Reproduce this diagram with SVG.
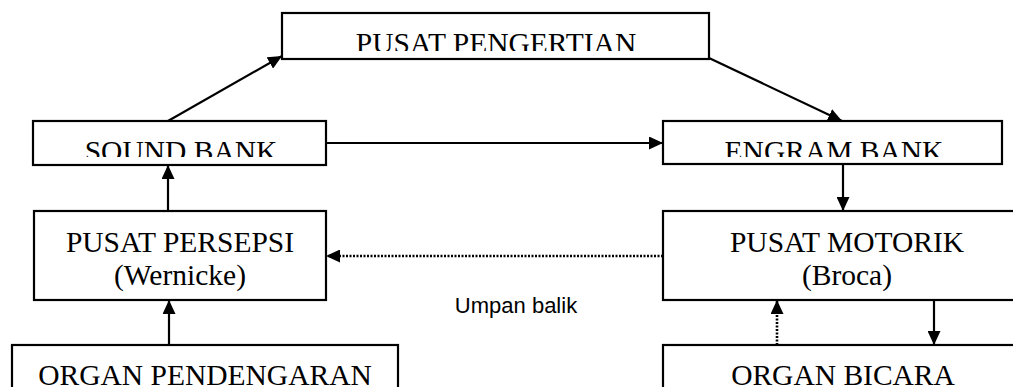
<svg xmlns="http://www.w3.org/2000/svg" width="1013" height="387" viewBox="0 0 1013 387">
  <style>
    .box { fill: #ffffff; stroke: #000000; stroke-width: 2.2; }
    .lbl { font-family: "Liberation Serif", "Times New Roman", serif; font-size: 29.5px; fill: #000000; text-anchor: middle; }
    .note { font-family: "Liberation Sans", Arial, sans-serif; font-size: 22px; fill: #000000; text-anchor: middle; }
    .edge { fill: none; stroke: #000000; stroke-width: 2.2; marker-end: url(#arrow); }
    .dot { stroke-width: 2.6; stroke-dasharray: 2 1.5; }
  </style>
  <defs>
    <marker id="arrow" markerUnits="userSpaceOnUse" markerWidth="14" markerHeight="13" refX="14" refY="6.5" orient="auto">
      <path d="M0,0 L14,6.5 L0,13 z" fill="#000000"/>
    </marker>
    <!-- text areas stop short of the box bottom, as in a text frame with inner margins -->
    <clipPath id="clip-pengertian"><rect x="282" y="13" width="427" height="38"/></clipPath>
    <clipPath id="clip-sound"><rect x="33" y="121" width="293" height="36"/></clipPath>
    <clipPath id="clip-engram"><rect x="663" y="121" width="339" height="36"/></clipPath>
  </defs>

  <rect width="1013" height="387" fill="#ffffff"/>

  <g id="connectors">
    <path class="edge" d="M168,121 L282,56"/>
    <path class="edge" d="M709,58 L842,121"/>
    <path class="edge" d="M326,143 L663,143"/>
    <path class="edge" d="M843,164 L843,211"/>
    <path class="edge" d="M168,211 L168,165"/>
    <path class="edge" d="M169,345 L169,300"/>
    <path class="edge dot" d="M663,256 L326,256"/>
    <path class="edge dot" d="M777,345 L777,300"/>
    <path class="edge" d="M934,300 L934,345"/>
    <text class="note" x="516" y="313">Umpan balik</text>
  </g>

  <g id="n-pengertian">
    <rect class="box" x="282" y="13" width="427" height="46"/>
    <text class="lbl" x="496" y="52.5" clip-path="url(#clip-pengertian)">PUSAT PENGERTIAN</text>
  </g>

  <g id="n-sound-bank">
    <rect class="box" x="33" y="121" width="293" height="44"/>
    <text class="lbl" x="181" y="161" clip-path="url(#clip-sound)">SOUND BANK</text>
  </g>

  <g id="n-engram-bank">
    <rect class="box" x="663" y="121" width="339" height="43"/>
    <text class="lbl" x="834" y="161" clip-path="url(#clip-engram)">ENGRAM BANK</text>
  </g>

  <g id="n-persepsi">
    <rect class="box" x="34" y="211" width="292" height="89"/>
    <text class="lbl" x="180" y="251.5">PUSAT PERSEPSI</text>
    <text class="lbl" x="180" y="285">(Wernicke)</text>
  </g>

  <g id="n-motorik">
    <rect class="box" x="663" y="211" width="368" height="89"/>
    <text class="lbl" x="847" y="251.5">PUSAT MOTORIK</text>
    <text class="lbl" x="847" y="285">(Broca)</text>
  </g>

  <g id="n-pendengaran">
    <rect class="box" x="12" y="345" width="386" height="70"/>
    <text class="lbl" x="205" y="384.5">ORGAN PENDENGARAN</text>
  </g>

  <g id="n-bicara">
    <rect class="box" x="663" y="345" width="360" height="70"/>
    <text class="lbl" x="843" y="384.5">ORGAN BICARA</text>
  </g>
</svg>
